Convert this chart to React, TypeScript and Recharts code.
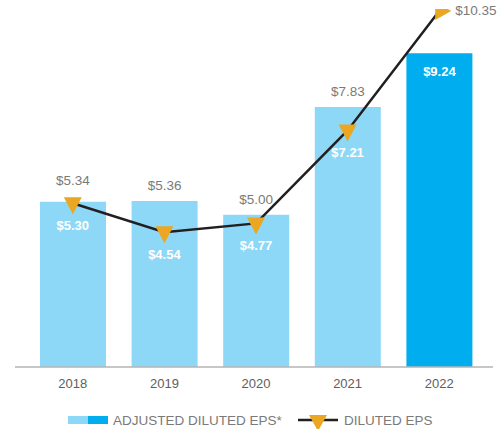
import React from "react";
import { ComposedChart, Bar, Line, XAxis, YAxis, Cell, LabelList, Legend } from "recharts";

const years = ["2018", "2019", "2020", "2021", "2022"];
const adjustedEps = [5.34, 5.36, 5.0, 7.83, 9.24];
const dilutedEps = [5.3, 4.54, 4.77, 7.21, 10.35];

const data = years.map((year, i) => ({ year, adjusted: adjustedEps[i], diluted: dilutedEps[i] }));

const FONT = "'Liberation Sans', Arial, Helvetica, sans-serif";
const LIGHT = "#8ED8F7";
const DARK = "#00AEEF";
const ORANGE = "#EBA622";
const GREY = "#7a7a7a";

const fmt = (v: number) => `$${v.toFixed(2)}`;

const Marker = (props: any) => {
  const { cx, cy, index } = props;
  if (cx == null || cy == null) return null;
  if (index === data.length - 1) {
    // last point: right-pointing triangle
    return <path key={`m-${index}`} d={`M${cx - 4},${cy - 9} L${cx + 12},${cy} L${cx - 4},${cy + 9} Z`} fill={ORANGE} />;
  }
  return <path key={`m-${index}`} d={`M${cx - 9},${cy - 6} L${cx + 9},${cy - 6} L${cx},${cy + 11} Z`} fill={ORANGE} />;
};

const LineLabel = (props: any) => {
  const { x, y, value, index } = props;
  if (index === data.length - 1) {
    return (
      <text x={x + 16} y={y} fill={GREY} fontSize={13.5} fontFamily={FONT} dominantBaseline="central">
        {fmt(value)}
      </text>
    );
  }
  return (
    <text x={x} y={y + 22} fill="#fff" fontSize={13} fontWeight="bold" fontFamily={FONT} textAnchor="middle" dominantBaseline="central">
      {fmt(value)}
    </text>
  );
};

const BarLabel = (props: any) => {
  const { x, y, width, value, index } = props;
  const cx = x + width / 2;
  if (index === data.length - 1) {
    return (
      <text x={cx} y={y + 18} fill="#fff" fontSize={13} fontWeight="bold" fontFamily={FONT} textAnchor="middle" dominantBaseline="central">
        {fmt(value)}
      </text>
    );
  }
  return (
    <text x={cx} y={y - (index === 0 ? 21 : 15)} fill={GREY} fontSize={13.5} fontFamily={FONT} textAnchor="middle" dominantBaseline="central">
      {fmt(value)}
    </text>
  );
};

const LegendContent = () => (
  <svg width={504} height={32} style={{ display: "block" }}>
    <rect x={68} y={19} width={20} height={8} fill={LIGHT} />
    <rect x={88} y={19} width={20} height={8} fill={DARK} />
    <text x={113} y={23} fill={GREY} fontSize={13.5} fontFamily={FONT} dominantBaseline="central">
      ADJUSTED DILUTED EPS*
    </text>
    <line x1={298} y1={23} x2={338} y2={23} stroke="#231f20" strokeWidth={2.5} />
    <path d="M309,18 L327,18 L318,34 Z" fill={ORANGE} />
    <text x={344} y={23} fill={GREY} fontSize={13.5} fontFamily={FONT} dominantBaseline="central">
      DILUTED EPS
    </text>
  </svg>
);

export default function App() {
  return (
    <div style={{ position: "absolute", left: 0, top: 0, width: 504, height: 429, background: "#fff" }}>
      <ComposedChart width={504} height={429} data={data} margin={{ top: 9, right: 11, left: 15, bottom: 0 }}>
        <XAxis
          dataKey="year"
          padding={{ left: 12, right: 8 }}
          axisLine={{ stroke: "#b5b5b5", strokeWidth: 1.5 }}
          tickLine={false}
          tickMargin={6}
          height={30}
          tick={{ fill: "#5e5e5e", fontSize: 13, fontFamily: FONT }}
        />
        <YAxis hide domain={[1, 10.4]} allowDataOverflow />
        <Legend verticalAlign="bottom" height={32} content={<LegendContent />} wrapperStyle={{ left: 0, top: 397, width: 504 }} />
        <Bar dataKey="adjusted" barSize={66} isAnimationActive={false}>
          {data.map((d, i) => (
            <Cell key={d.year} fill={i === data.length - 1 ? DARK : LIGHT} />
          ))}
          <LabelList dataKey="adjusted" content={<BarLabel />} />
        </Bar>
        <Line
          dataKey="diluted"
          stroke="#231f20"
          strokeWidth={2.5}
          dot={Marker}
          activeDot={false}
          isAnimationActive={false}
        >
          <LabelList dataKey="diluted" content={<LineLabel />} />
        </Line>
      </ComposedChart>
    </div>
  );
}
